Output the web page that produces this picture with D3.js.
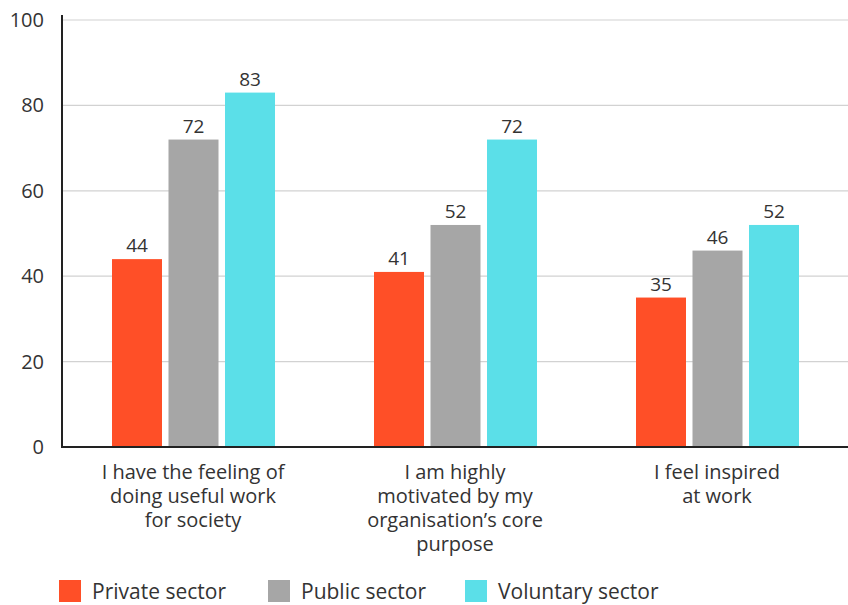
<!DOCTYPE html>
<html>
<head>
<meta charset="utf-8">
<script src="https://cdn.jsdelivr.net/npm/d3@7"></script>
<style>
  html, body { margin: 0; padding: 0; background: #fff; }
  svg { display: block; font-family: "Open Sans", "Noto Sans", sans-serif; }
</style>
</head>
<body>
<svg id="chart" width="848" height="605"></svg>
<script>
// Survey statements, one group per statement
const categories = [
  ["I have the feeling of", "doing useful work", "for society"],
  ["I am highly", "motivated by my", "organisation\u2019s core", "purpose"],
  ["I feel inspired", "at work"]
];
const sectors = ["Private sector", "Public sector", "Voluntary sector"];
const privateValues = [44, 41, 35];
const publicValues = [72, 52, 46];
const voluntaryValues = [83, 72, 52];
const yTicks = [0, 20, 40, 60, 80, 100];

const colors = ["#ff4f27", "#a6a6a6", "#5bdfe8"];
const seriesValues = [privateValues, publicValues, voluntaryValues];
const textColor = "#333";

const svg = d3.select("#chart");
const margin = { left: 62, right: 0, top: 20, bottom: 158 };
const W = 848;

const x0 = d3.scaleBand()
  .domain(d3.range(categories.length))
  .range([margin.left, W - margin.right])
  .paddingInner(0).paddingOuter(0);

const x1 = d3.scaleBand()
  .domain(d3.range(sectors.length))
  .range([-81, 82])
  .paddingInner(0.115).paddingOuter(0);

const y = d3.scaleLinear().domain([0, 100]).range([447, 20]);

// grid lines
svg.append("g")
  .selectAll("line")
  .data(yTicks.filter(d => d > 0))
  .join("line")
  .attr("x1", margin.left).attr("x2", W)
  .attr("y1", d => y(d)).attr("y2", d => y(d))
  .attr("stroke", "#d2d2d2").attr("stroke-width", 1.2);

// y axis labels
const yAxis = svg.append("g")
  .attr("transform", `translate(${margin.left},0)`)
  .call(d3.axisLeft(y).tickValues(yTicks).tickSize(0).tickPadding(18));
yAxis.select(".domain").remove();
yAxis.selectAll("text")
  .attr("font-size", 20).attr("fill", textColor)
  .style("font-family", "'Open Sans', 'Noto Sans', sans-serif");

// bars
const groups = svg.append("g")
  .selectAll("g")
  .data(categories.map((c, i) => i))
  .join("g")
  .attr("transform", i => `translate(${x0(i) + x0.bandwidth() / 2},0)`);

groups.selectAll("rect")
  .data(i => sectors.map((s, k) => ({ k, v: seriesValues[k][i] })))
  .join("rect")
  .attr("x", d => x1(d.k))
  .attr("width", x1.bandwidth())
  .attr("y", d => y(d.v))
  .attr("height", d => y(0) - y(d.v))
  .attr("fill", d => colors[d.k]);

groups.selectAll("text.value")
  .data(i => sectors.map((s, k) => ({ k, v: seriesValues[k][i] })))
  .join("text")
  .attr("class", "value")
  .attr("x", d => x1(d.k) + x1.bandwidth() / 2)
  .attr("y", d => y(d.v) - 7)
  .attr("text-anchor", "middle")
  .attr("font-size", 19).attr("fill", textColor)
  .text(d => d.v);

// category labels
groups.append("text")
  .attr("text-anchor", "middle")
  .attr("font-size", 20).attr("fill", textColor)
  .selectAll("tspan")
  .data(i => categories[i])
  .join("tspan")
  .attr("x", 0)
  .attr("y", (d, j) => 479 + j * 24)
  .text(d => d);

// axis lines
svg.append("line")
  .attr("x1", margin.left).attr("x2", margin.left)
  .attr("y1", 15).attr("y2", 448)
  .attr("stroke", "#222").attr("stroke-width", 2);
svg.append("line")
  .attr("x1", margin.left - 1).attr("x2", W)
  .attr("y1", 447).attr("y2", 447)
  .attr("stroke", "#222").attr("stroke-width", 2);

// legend
const legendX = [59, 268, 465];
const legend = svg.append("g")
  .selectAll("g")
  .data(sectors)
  .join("g")
  .attr("transform", (d, i) => `translate(${legendX[i]},580)`);
legend.append("rect")
  .attr("width", 22).attr("height", 22)
  .attr("fill", (d, i) => colors[i]);
legend.append("text")
  .attr("x", 33).attr("y", 19)
  .attr("font-size", 21).attr("fill", textColor)
  .text(d => d);
</script>
</body>
</html>
